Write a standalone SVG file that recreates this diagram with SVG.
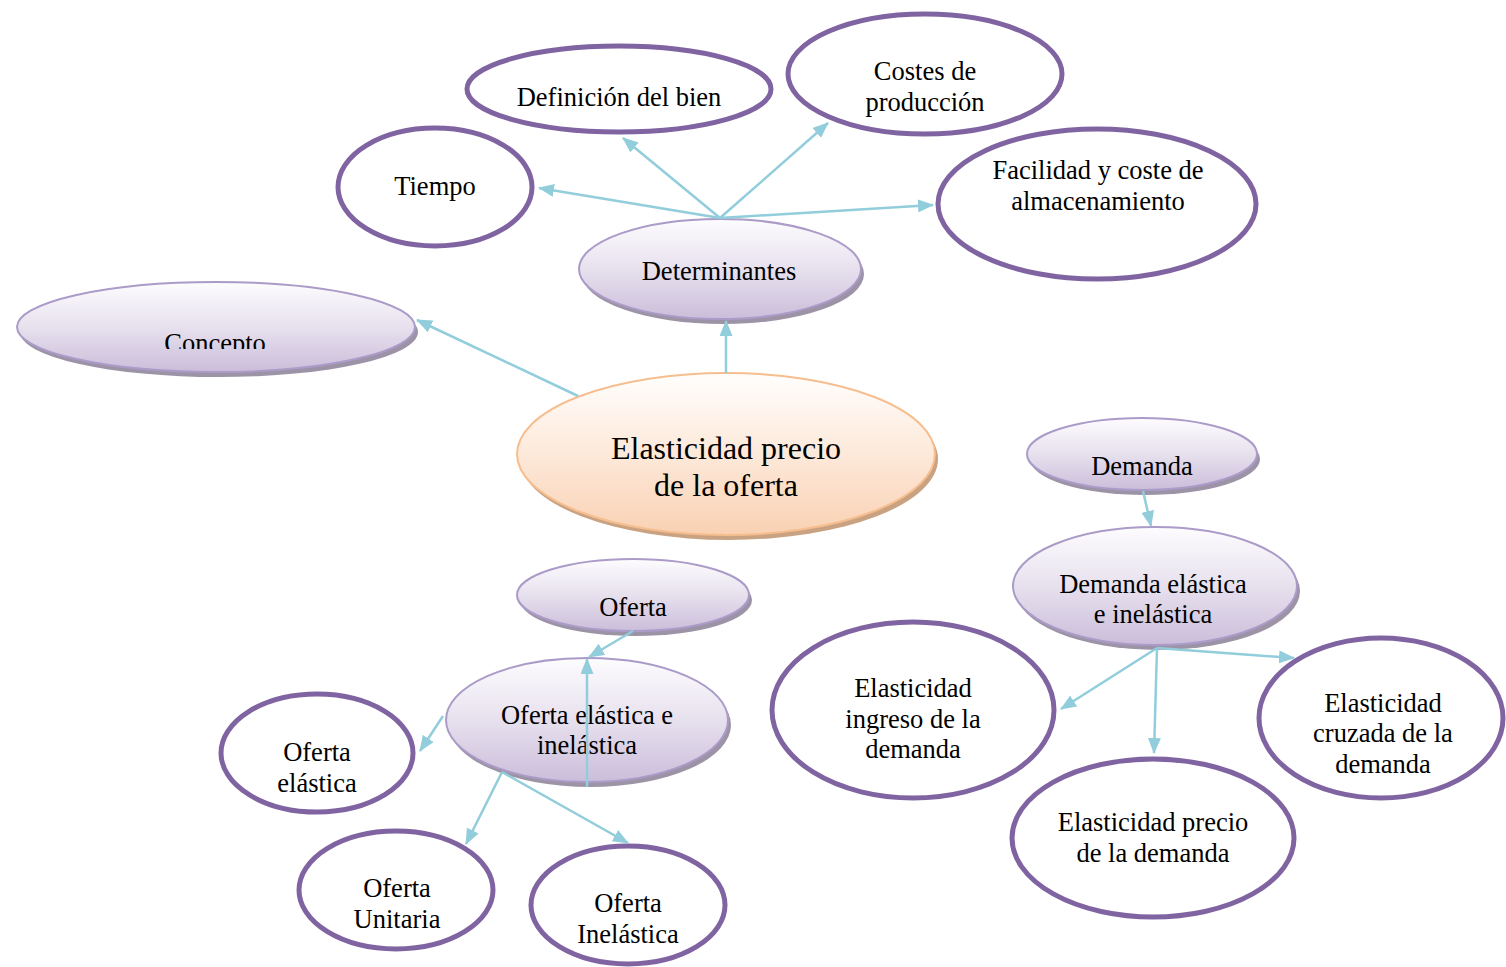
<svg xmlns="http://www.w3.org/2000/svg" width="1506" height="967" viewBox="0 0 1506 967" font-family="'Liberation Serif', 'Times New Roman', serif">
<style>
.out{fill:#fff;stroke:#8064A2;stroke-width:5}
.lav{fill:url(#gLav);stroke:#AB9BC8;stroke-width:2}
.shd{fill:#9D93A6}
.cshd{fill:#C9A282}
.ctr{fill:url(#gOr);stroke:#F6BE8E;stroke-width:2}
text{font-family:'Liberation Serif','Times New Roman',serif;fill:#000;text-anchor:middle}
.t24{font-size:26.5px}
.t31{font-size:32px}
.con{fill:none;stroke:#92CDDC;stroke-width:2.5;marker-end:url(#ah)}
</style>
<defs>
<linearGradient id="gLav" x1="0" y1="0" x2="0" y2="1">
<stop offset="0" stop-color="#FDFCFE"/>
<stop offset="0.5" stop-color="#E7E1EE"/>
<stop offset="1" stop-color="#CBBDDA"/>
</linearGradient>
<linearGradient id="gOr" x1="0" y1="0" x2="0" y2="1">
<stop offset="0" stop-color="#FFFEFD"/>
<stop offset="0.5" stop-color="#FDE9DA"/>
<stop offset="1" stop-color="#F9D1B2"/>
</linearGradient>
<marker id="ah" viewBox="0 0 16 13" refX="15" refY="6.5" markerWidth="16" markerHeight="13" markerUnits="userSpaceOnUse" orient="auto">
<path d="M0,0 L16,6.5 L0,13 Z" fill="#92CDDC"/>
</marker>
<clipPath id="clipConcepto"><rect x="0" y="280" width="430" height="69"/></clipPath>
</defs>

<g id="n-definicion">
<ellipse class="out" cx="619" cy="89" rx="152" ry="43"/>
<text class="t24" x="619" y="106">Definición del bien</text>
</g>
<g id="n-costes">
<ellipse class="out" cx="925" cy="74" rx="137" ry="60"/>
<text class="t24" x="925" y="80">Costes de</text>
<text class="t24" x="925" y="111">producción</text>
</g>
<g id="n-tiempo">
<ellipse class="out" cx="435" cy="187" rx="97" ry="59"/>
<text class="t24" x="435" y="195">Tiempo</text>
</g>
<g id="n-facilidad">
<ellipse class="out" cx="1097" cy="204" rx="159" ry="75"/>
<text class="t24" x="1098" y="179">Facilidad y coste de</text>
<text class="t24" x="1098" y="210">almacenamiento</text>
</g>

<g id="n-determinantes">
<ellipse class="shd" cx="723" cy="274" rx="141" ry="50"/>
<ellipse class="lav" cx="720" cy="269" rx="141" ry="50"/>
<text class="t24" x="719" y="280">Determinantes</text>
</g>
<g id="n-concepto">
<ellipse class="shd" cx="219" cy="332" rx="199" ry="45"/>
<ellipse class="lav" cx="216" cy="327" rx="199" ry="45"/>
<text class="t24" x="215" y="352" clip-path="url(#clipConcepto)">Concepto</text>
</g>

<g id="n-central">
<ellipse class="cshd" cx="729" cy="459" rx="209" ry="81"/>
<ellipse class="ctr" cx="726" cy="454" rx="209" ry="81"/>
<text class="t31" x="726" y="459">Elasticidad precio</text>
<text class="t31" x="726" y="496">de la oferta</text>
</g>

<g id="n-demanda">
<ellipse class="shd" cx="1145" cy="459" rx="115" ry="36"/>
<ellipse class="lav" cx="1142" cy="454" rx="115" ry="36"/>
<text class="t24" x="1142" y="475">Demanda</text>
</g>
<g id="n-demanda-elastica">
<ellipse class="shd" cx="1158" cy="591" rx="142" ry="59"/>
<ellipse class="lav" cx="1155" cy="586" rx="142" ry="59"/>
<text class="t24" x="1153" y="593">Demanda elástica</text>
<text class="t24" x="1153" y="623">e inelástica</text>
</g>

<g id="n-oferta">
<ellipse class="shd" cx="636" cy="600" rx="116" ry="36"/>
<ellipse class="lav" cx="633" cy="595" rx="116" ry="36"/>
<text class="t24" x="633" y="616">Oferta</text>
</g>
<g id="n-oferta-elastica-inelastica">
<ellipse class="shd" cx="590" cy="725" rx="141" ry="62"/>
<ellipse class="lav" cx="587" cy="720" rx="141" ry="62"/>
<text class="t24" x="587" y="724">Oferta elástica e</text>
<text class="t24" x="587" y="754">inelástica</text>
</g>

<g id="n-oferta-elastica">
<ellipse class="out" cx="317" cy="753" rx="96" ry="59"/>
<text class="t24" x="317" y="761">Oferta</text>
<text class="t24" x="317" y="792">elástica</text>
</g>
<g id="n-oferta-unitaria">
<ellipse class="out" cx="396" cy="890" rx="97" ry="59"/>
<text class="t24" x="397" y="897">Oferta</text>
<text class="t24" x="397" y="928">Unitaria</text>
</g>
<g id="n-oferta-inelastica">
<ellipse class="out" cx="628" cy="905" rx="97" ry="59"/>
<text class="t24" x="628" y="912">Oferta</text>
<text class="t24" x="628" y="943">Inelástica</text>
</g>

<g id="n-ingreso">
<ellipse class="out" cx="913" cy="710" rx="141" ry="88"/>
<text class="t24" x="913" y="697">Elasticidad</text>
<text class="t24" x="913" y="728">ingreso de la</text>
<text class="t24" x="913" y="758">demanda</text>
</g>
<g id="n-precio-demanda">
<ellipse class="out" cx="1153" cy="838" rx="141" ry="79"/>
<text class="t24" x="1153" y="831">Elasticidad precio</text>
<text class="t24" x="1153" y="862">de la demanda</text>
</g>
<g id="n-cruzada">
<ellipse class="out" cx="1381" cy="718" rx="122" ry="80"/>
<text class="t24" x="1383" y="712">Elasticidad</text>
<text class="t24" x="1383" y="742">cruzada de la</text>
<text class="t24" x="1383" y="773">demanda</text>
</g>

<g id="connectors">
<line class="con" x1="720" y1="218" x2="539" y2="188"/>
<line class="con" x1="720" y1="218" x2="623" y2="138"/>
<line class="con" x1="720" y1="218" x2="828" y2="123"/>
<line class="con" x1="720" y1="218" x2="933" y2="205"/>
<line class="con" x1="726" y1="373" x2="726" y2="321"/>
<line class="con" x1="578" y1="396" x2="417" y2="320"/>
<line class="con" x1="633" y1="631" x2="589" y2="657"/>
<line class="con" x1="587" y1="787" x2="587" y2="659"/>
<line class="con" x1="443" y1="716" x2="420" y2="751"/>
<line class="con" x1="502" y1="772" x2="466" y2="844"/>
<line class="con" x1="502" y1="772" x2="628" y2="843"/>
<line class="con" x1="1143" y1="491" x2="1151" y2="526"/>
<line class="con" x1="1157" y1="648" x2="1061" y2="709"/>
<line class="con" x1="1157" y1="648" x2="1154" y2="753"/>
<line class="con" x1="1157" y1="648" x2="1294" y2="658"/>
</g>
</svg>
